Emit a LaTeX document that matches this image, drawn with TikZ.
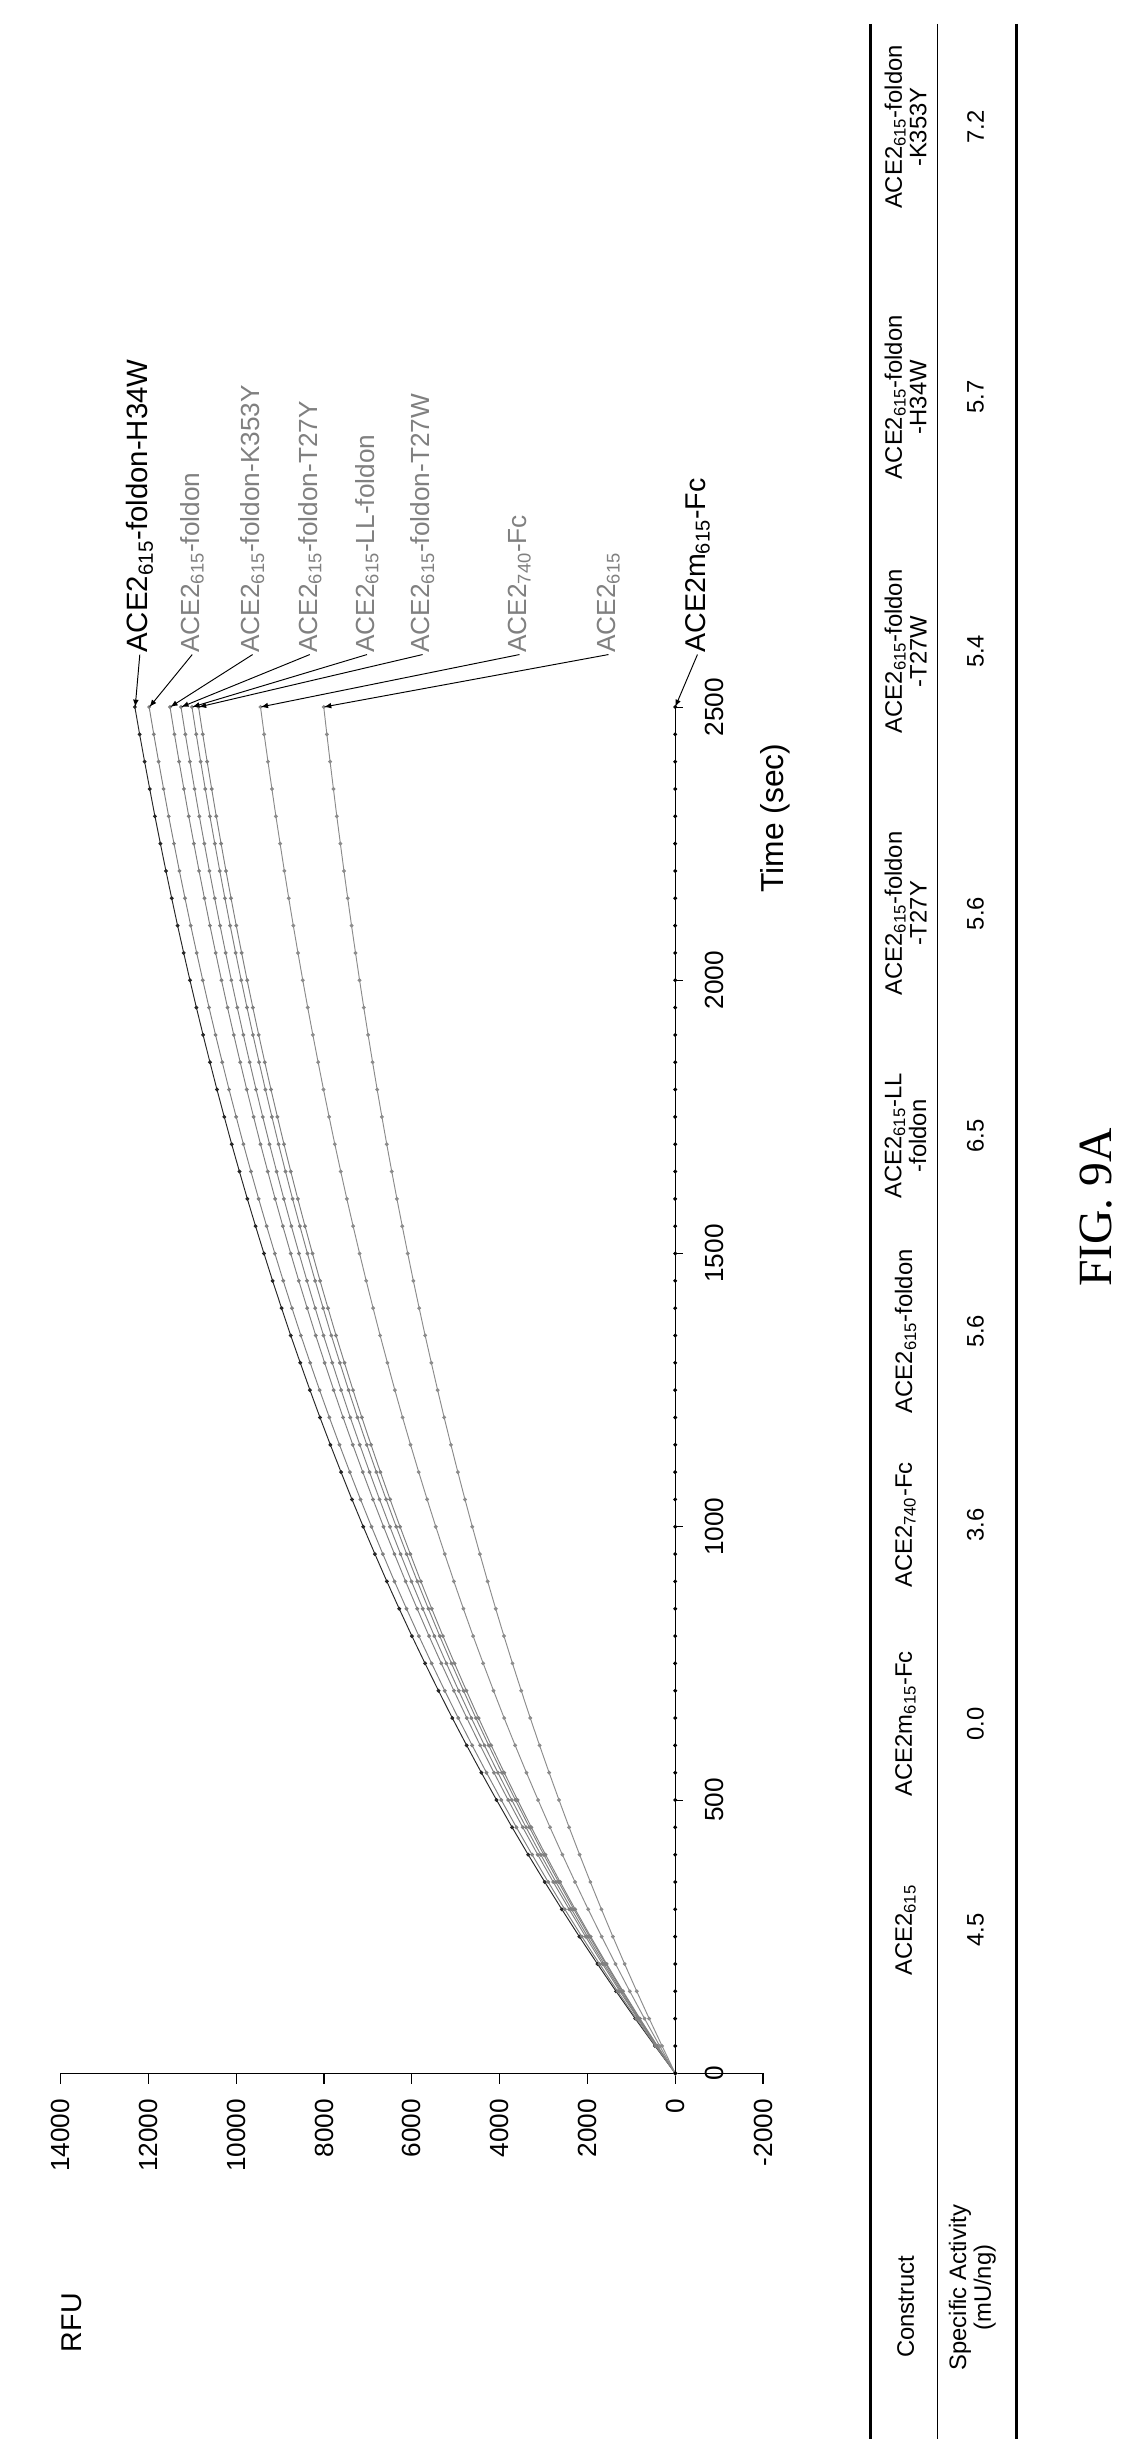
\documentclass[tikz,border=0pt]{standalone}
\usepackage{fontspec}
\setmainfont{Liberation Sans}
\newfontfamily\figfont{Liberation Serif}
\usetikzlibrary{calc}
\newcommand{\lowidx}[1]{\textsubscript{#1}}
\begin{document}
\begin{tikzpicture}[x=1pt,y=-1pt,every text node part/.style={align=center}]
	\tikzstyle{curvelabel}=[rotate=90,anchor=west,inner sep=1pt,font=\fontsize{16.5}{18}\selectfont]
	\tikzstyle{ticklabel}=[rotate=90,inner sep=1pt,font=\fontsize{16.5}{18}\selectfont]
	\tikzstyle{tabcell}=[rotate=90,inner sep=1pt,font=\fontsize{15}{15.5}\selectfont]
	\tikzstyle{pointer}=[-latex,line width=0.6pt]
	\useasboundingbox (0,0) rectangle (705,1539);

	% axes
	\coordinate (origin) at (425,1305);
	\coordinate (rfutop) at (38,1305);
	\coordinate (rfubot) at (480,1305);
	\coordinate (timeend) at (425,445);
	\draw[line width=0.9pt] (rfutop) -- (rfubot);
	\draw[line width=0.6pt] (origin) -- (timeend);
	\foreach \v in {14000,12000,10000,8000,6000,4000,2000,0,-2000}{
		\draw[line width=0.8pt] ({425-0.02764*\v},1305) -- ++(0,7);
		\node[ticklabel,anchor=east] (rfu\v) at ({425-0.02764*\v},1320) {\v};
	}
	\node[ticklabel,font=\fontsize{18}{20}\selectfont] (rfuname) at (45,1462) {RFU};
	\foreach \t in {0,500,1000,1500,2000,2500}{
		\draw (425,{1305-0.344*\t}) -- ++(5,0);
		\node[ticklabel] (time\t) at (450,{1305-0.344*\t}) {\t};
	}
	\node[ticklabel,font=\fontsize{20}{22}\selectfont] (timename) at (488,515) {Time (sec)};

	% curves
	\foreach \name/\V/\col in {h34w/12300/black!85, fold/11975/gray, k353y/11500/gray,
			t27y/11250/gray, ll/11000/gray, t27w/10850/gray, fc/9440/gray!90, ace/8000/gray!90}{
		\draw[\col,line width=0.6pt,mark=*,mark size=0.9pt]
			plot[domain=0:2500,samples=51] ({425-0.0359*\V*(1-exp(-\x/1700))},{1305-0.344*\x});
		\coordinate (end\name) at ({425-0.02764*\V},445);
	}
	\draw[black,line width=0.6pt,mark=*,mark size=0.9pt]
		plot[domain=0:2500,samples=51] (425,{1305-0.344*\x});
	\coordinate (endmfc) at (425,445);

	% curve labels
	\node[curvelabel,font=\fontsize{18.5}{20}\selectfont] (lh34w) at (88,412) {ACE2\lowidx{615}-foldon-H34W};
	\node[curvelabel,gray] (lfold) at (121,412) {ACE2\lowidx{615}-foldon};
	\node[curvelabel,gray] (lk353y) at (159,412) {ACE2\lowidx{615}-foldon-K353Y};
	\node[curvelabel,gray] (lt27y) at (195,412) {ACE2\lowidx{615}-foldon-T27Y};
	\node[curvelabel,gray] (lll) at (231,412) {ACE2\lowidx{615}-LL-foldon};
	\node[curvelabel,gray] (lt27w) at (266,412) {ACE2\lowidx{615}-foldon-T27W};
	\node[curvelabel,gray] (lfc) at (327,412) {ACE2\lowidx{740}-Fc};
	\node[curvelabel,gray] (lace) at (383,412) {ACE2\lowidx{615}};
	\node[curvelabel,font=\fontsize{18}{19}\selectfont] (lmfc) at (439,412) {ACE2m\lowidx{615}-Fc};
	\foreach \name in {h34w,fold,k353y,t27y,ll,t27w,fc,ace,mfc}
		\draw[pointer] (l\name.west) -- (end\name);

	% table
	\draw[line width=1.8pt] (548,15) -- (548,1535);
	\draw[line width=0.5pt] (590,15) -- (590,1535);
	\draw[line width=1.8pt] (640,15) -- (640,1535);
	\node[tabcell] (hcon) at (570,1452) {Construct};
	\node[tabcell,align=left] (hact) at (612,1440) {Specific Activity\\(mU/ng)};
	\foreach \y/\head/\val in {
			1215/ACE2\lowidx{615}/4.5,
			1085/ACE2m\lowidx{615}-Fc/0.0,
			960/ACE2\lowidx{740}-Fc/3.6,
			838/ACE2\lowidx{615}-foldon/5.6,
			715/ACE2\lowidx{615}-LL\\-foldon/6.5,
			575/ACE2\lowidx{615}-foldon\\-T27Y/5.6,
			410/ACE2\lowidx{615}-foldon\\-T27W/5.4,
			250/ACE2\lowidx{615}-foldon\\-H34W/5.7,
			80/ACE2\lowidx{615}-foldon\\-K353Y/7.2}{
		\node[tabcell] (h\y) at (570,\y) {\head};
		\node[tabcell] (v\y) at (614,\y) {\val};
	}

	\node[rotate=90,font=\figfont\fontsize{30}{32}\selectfont] (figname) at (690,760) {FIG. 9A};
\end{tikzpicture}
\end{document}
